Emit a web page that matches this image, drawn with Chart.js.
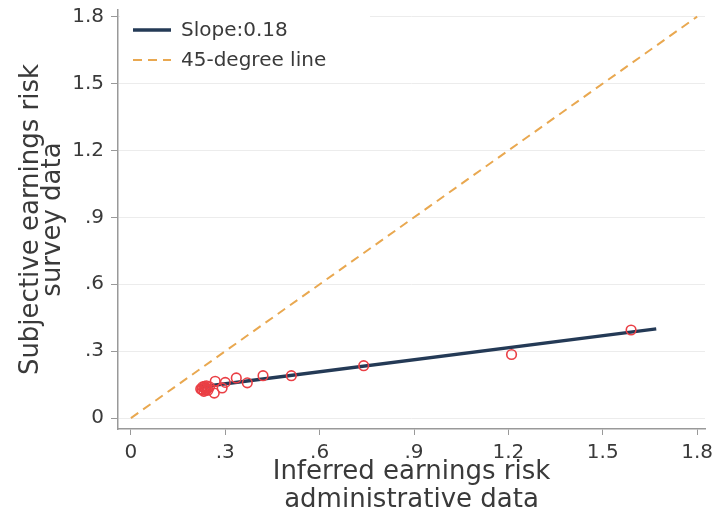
<!DOCTYPE html>
<html>
<head>
<meta charset="utf-8">
<script src="https://cdn.jsdelivr.net/npm/chart.js@4/dist/chart.umd.min.js"></script>
<style>
html,body{margin:0;padding:0;background:#fff;}
#c{display:block;}
</style>
</head>
<body>
<canvas id="c" width="717" height="519"></canvas>
<script>
// ---- data ----
const scatterX = [0.222,0.226,0.228,0.232,0.234,0.236,0.238,0.240,0.243,0.245,0.250,0.265,0.268,0.290,0.300,0.335,0.370,0.420,0.510,0.740,1.210,1.590];
const scatterY = [0.130,0.128,0.140,0.120,0.142,0.135,0.125,0.145,0.133,0.125,0.140,0.112,0.165,0.135,0.160,0.180,0.158,0.190,0.190,0.235,0.285,0.395];
const fitX = [0.22, 1.67];
const fitY = [0.139, 0.400];
const diagX = [0, 1.8];
const diagY = [0, 1.8];
const tickValues = [0, 0.3, 0.6, 0.9, 1.2, 1.5, 1.8];
const tickLabels = ["0", ".3", ".6", ".9", "1.2", "1.5", "1.8"];
const legendLabels = ["Slope:0.18", "45-degree line"];

const FONT = "'DejaVu Sans', Verdana, sans-serif";
const TEXT = '#3a3a3a';
const toPts = (xs, ys) => xs.map((x, i) => ({x: x, y: ys[i]}));

const setTicks = (scale) => { scale.ticks = tickValues.map(v => ({value: v})); };
const fmt = (v) => { const i = tickValues.findIndex(t => Math.abs(t - v) < 1e-9); return i >= 0 ? tickLabels[i] : ''; };

const legendPlugin = {
  id: 'insideLegend',
  afterDraw(chart) {
    const ctx = chart.ctx;
    const ca = chart.chartArea;
    ctx.save();
    ctx.fillStyle = '#fff';
    ctx.fillRect(ca.left + 2, ca.top + 2, 250, 66);
    const items = [chart.data.datasets[0], chart.data.datasets[1]];
    ctx.font = "20px " + FONT;
    ctx.textBaseline = 'middle';
    items.forEach((ds, i) => {
      const y = ca.top + 20 + i * 30;
      ctx.beginPath();
      ctx.strokeStyle = ds.borderColor;
      ctx.lineWidth = ds.borderWidth;
      ctx.setLineDash(ds.borderDash || []);
      ctx.moveTo(ca.left + 15, y);
      ctx.lineTo(ca.left + 53, y);
      ctx.stroke();
      ctx.setLineDash([]);
      ctx.fillStyle = TEXT;
      ctx.fillText(legendLabels[i], ca.left + 63, y + 1);
    });
    ctx.restore();
  }
};

new Chart(document.getElementById('c'), {
  type: 'scatter',
  data: {
    datasets: [
      {
        type: 'line',
        label: legendLabels[0],
        data: toPts(fitX, fitY),
        borderColor: '#243a56',
        borderWidth: 3.5,
        pointRadius: 0,
        fill: false,
        order: 2
      },
      {
        type: 'line',
        label: legendLabels[1],
        data: toPts(diagX, diagY),
        borderColor: '#e9a850',
        borderWidth: 2,
        borderDash: [9, 6],
        pointRadius: 0,
        fill: false,
        order: 3
      },
      {
        label: 'points',
        data: toPts(scatterX, scatterY),
        pointRadius: 4.8,
        pointBorderWidth: 1.6,
        borderColor: '#ea3f45',
        backgroundColor: 'rgba(0,0,0,0)',
        pointStyle: 'circle',
        order: 1
      }
    ]
  },
  options: {
    responsive: false,
    animation: false,
    devicePixelRatio: 1,
    layout: {padding: {left: 0, right: 12, top: 10, bottom: 0}},
    plugins: {legend: {display: false}, tooltip: {enabled: false}},
    scales: {
      x: {
        type: 'linear',
        min: -0.041,
        max: 1.825,
        afterBuildTicks: setTicks,
        afterFit: (s) => { s.height = 90; s.paddingLeft = 0; s.paddingRight = 0; },
        grid: {drawOnChartArea: false, tickLength: 6, tickColor: '#999', tickWidth: 1},
        border: {color: '#999', width: 1.5},
        ticks: {callback: fmt, color: TEXT, font: {family: FONT, size: 20, lineHeight: 1.2}, padding: 6, maxRotation: 0},
        title: {display: true, text: ['Inferred earnings risk', 'administrative data'], color: TEXT, font: {family: FONT, size: 26, lineHeight: 1.1}, padding: {top: 0, bottom: 4}}
      },
      y: {
        type: 'linear',
        min: -0.049,
        max: 1.83,
        afterBuildTicks: setTicks,
        afterFit: (s) => { s.width = 118; s.paddingTop = 0; s.paddingBottom = 0; },
        grid: {color: '#ececec', lineWidth: 1, tickLength: 7, tickColor: '#999', tickWidth: 1},
        border: {color: '#999', width: 1.5},
        ticks: {callback: fmt, color: TEXT, font: {family: FONT, size: 20}, padding: 7},
        title: {display: true, text: ['Subjective earnings risk', 'survey data'], color: TEXT, font: {family: FONT, size: 26, lineHeight: 0.85}, padding: {top: 20, bottom: 0}}
      }
    }
  },
  plugins: [legendPlugin]
});
</script>
</body>
</html>
